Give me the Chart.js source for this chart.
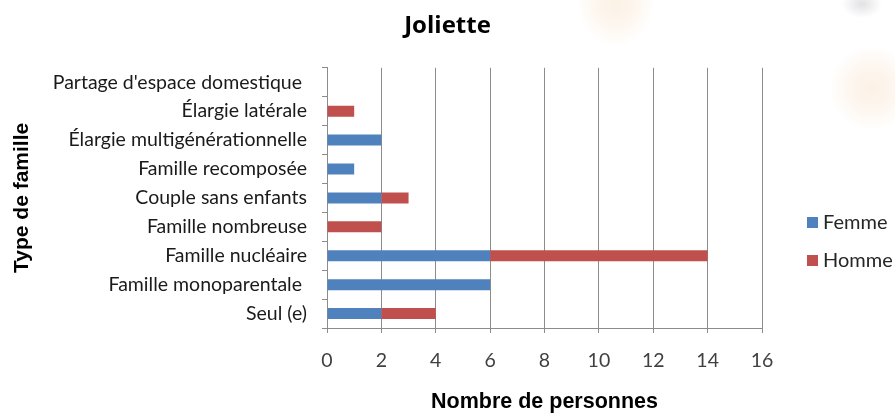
<!DOCTYPE html>
<html>
<head>
<meta charset="utf-8">
<script src="https://cdn.jsdelivr.net/npm/chart.js@4"></script>
<style>
html,body{margin:0;padding:0;}
body{width:895px;height:413px;overflow:hidden;
background:
radial-gradient(ellipse 38px 44px at 616px 2px, rgba(251,238,222,0.8), rgba(251,238,222,0.45) 60%, rgba(251,238,222,0) 100%),
radial-gradient(ellipse 42px 42px at 872px 88px, rgba(251,238,224,0.85), rgba(251,238,224,0.45) 60%, rgba(251,238,224,0) 100%),
radial-gradient(ellipse 20px 14px at 862px 4px, rgba(218,218,221,0.8), rgba(218,218,221,0) 100%),
#ffffff;}
#wrap{position:absolute;left:0;top:0;width:895px;height:413px;}
</style>
</head>
<body>
<div id="wrap"><canvas id="c" width="895" height="413"></canvas></div>
<script>
const categories = ["Partage d'espace domestique ", "Élargie latérale", "Élargie multigénérationnelle", "Famille recomposée", "Couple sans enfants", "Famille nombreuse", "Famille nucléaire", "Famille monoparentale ", "Seul (e)"];
const femme = [0, 0, 2, 1, 2, 0, 6, 6, 2];
const homme = [0, 1, 0, 0, 1, 2, 8, 0, 2];
const seriesNames = ["Femme", "Homme"];
const xTicks = [0, 2, 4, 6, 8, 10, 12, 14, 16];
const chartTitle = "Joliette";
const xTitle = "Nombre de personnes";
const yTitle = "Type de famille";

const legendPlugin = {
  id: 'customLegend',
  afterDraw(chart) {
    const ctx = chart.ctx;
    ctx.save();
    ctx.font = '20px Lato';
    ctx.textBaseline = 'middle';
    chart.data.datasets.forEach((ds, i) => {
      const y = 222 + i * 38;
      ctx.fillStyle = ds.backgroundColor;
      ctx.fillRect(807, y - 5, 11, 11);
      ctx.fillStyle = '#262626';
      ctx.fillText(ds.label, 823, y + 1);
    });
    ctx.restore();
  }
};

new Chart(document.getElementById('c'), {
  type: 'bar',
  data: {
    labels: categories,
    datasets: [
      { label: seriesNames[0], data: femme, backgroundColor: '#4F81BD', borderWidth: 0, barPercentage: 0.76, categoryPercentage: 0.5 },
      { label: seriesNames[1], data: homme, backgroundColor: '#C0504D', borderWidth: 0, barPercentage: 0.76, categoryPercentage: 0.5 }
    ]
  },
  options: {
    indexAxis: 'y',
    responsive: false,
    animation: false,
    layout: { padding: { left: 0, right: 0, top: 0, bottom: 0 } },
    plugins: {
      legend: { display: false },
      tooltip: { enabled: false },
      title: {
        display: true, text: chartTitle, color: '#000',
        font: { family: 'Open Sans', size: 24, weight: 'bold' },
        padding: { top: 12, bottom: 27 }
      }
    },
    scales: {
      x: {
        stacked: true, min: 0, max: 16,
        afterBuildTicks: s => { s.ticks = xTicks.map(v => ({ value: v })); },
        afterFit: s => { s.height = 85; },
        grid: { color: '#8c8c8c', lineWidth: 1, tickLength: 5, drawTicks: true },
        border: { display: true, color: '#8c8c8c' },
        ticks: { color: '#404040', font: { family: 'Lato', size: 19.5 }, padding: 16 },
        title: { display: true, text: xTitle, color: '#000', font: { family: 'Liberation Sans', size: 21.5, weight: 'bold', lineHeight: 1.0 }, padding: { top: 0, bottom: 0 } }
      },
      y: {
        stacked: true,
        afterFit: s => { s.width = 327; },
        grid: { display: true, drawOnChartArea: false, color: '#8c8c8c', tickLength: 5 },
        border: { display: true, color: '#8c8c8c' },
        ticks: { color: '#1a1a1a', font: { family: 'Lato', size: 19.5 }, padding: 15 },
        title: { display: true, text: yTitle, color: '#000', font: { family: 'Liberation Sans', size: 21, weight: 'bold' }, padding: { top: 10 } }
      },
      y2: {
        type: 'category', position: 'right', labels: categories,
        afterFit: s => { s.width = 133; },
        grid: { display: false }, border: { display: false }, ticks: { display: false }
      }
    }
  },
  plugins: [legendPlugin]
});
</script>
</body>
</html>
